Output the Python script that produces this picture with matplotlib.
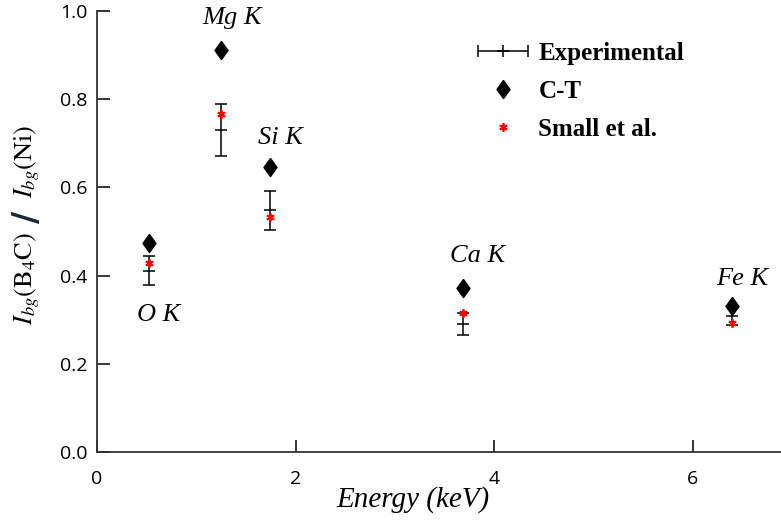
import numpy as np
import matplotlib
matplotlib.use('Agg')
import matplotlib.pyplot as plt
from matplotlib.legend_handler import HandlerErrorbar
from matplotlib.container import ErrorbarContainer

plt.rcParams['mathtext.fontset'] = 'stix'

# Data
lines_names = ['O K', 'Mg K', 'Si K', 'Ca K', 'Fe K']
energy = [0.525, 1.254, 1.740, 3.690, 6.400]
exp_val = [0.411, 0.730, 0.548, 0.291, 0.309]
exp_err = [0.033, 0.058, 0.044, 0.025, 0.020]
ct_val = [0.473, 0.911, 0.647, 0.371, 0.330]
small_val = [0.429, 0.766, 0.532, 0.316, 0.293]

# label positions (energy, ratio)
label_x = [0.62, 1.36, 1.85, 3.83, 6.50]
label_y = [0.31, 0.985, 0.712, 0.445, 0.393]

fig = plt.figure(figsize=(7.81, 5.20), dpi=100)
ax = fig.add_axes([0.1242, 0.1308, 0.8758, 0.8481])

diamond = [(0, 1), (0.72, 0), (0, -1), (-0.72, 0), (0, 1)]

ax.errorbar(energy, exp_val, yerr=exp_err, fmt='_', color='black', ecolor='black',
            elinewidth=1.1, capsize=4, capthick=1.1, markersize=8, mew=1.1, zorder=2)
ax.plot(energy, ct_val, linestyle='none', marker=diamond, markersize=13,
        color='black', zorder=3)
ax.plot(energy, small_val, linestyle='none', marker=(6, 2, 0), markersize=6,
        mew=1.3, color='red', zorder=4)

for name, lx, ly in zip(lines_names, label_x, label_y):
    ax.text(lx, ly, name, fontsize=19, family='Liberation Serif', style='italic',
            ha='center', va='center')

# legend proxies
proxy = ax.errorbar([np.nan], [np.nan], xerr=[0.1], fmt='+', color='black',
                    elinewidth=1.1, capsize=4, markersize=8, mew=1.1)
ct_proxy, = ax.plot([], [], linestyle='none', marker=diamond, markersize=13, color='black')
sm_proxy, = ax.plot([], [], linestyle='none', marker=(6, 2, 0), markersize=6,
                    mew=1.3, color='red')
ax.legend([proxy, ct_proxy, sm_proxy], ['Experimental', 'C-T', 'Small et al.'],
          handler_map={ErrorbarContainer: HandlerErrorbar(xerr_size=1.0)},
          loc='upper left', bbox_to_anchor=(0.587, 0.963), bbox_transform=fig.transFigure,
          frameon=False, prop={'family': 'Liberation Serif', 'weight': 'bold', 'size': 18},
          handlelength=1.8, labelspacing=0.6, handletextpad=0.5)

ax.set_xlim(0, 6.89)
ax.set_ylim(0, 1.0)
ax.set_xticks([0, 2, 4, 6])
ax.set_yticks([0.0, 0.2, 0.4, 0.6, 0.8, 1.0])
ax.set_yticklabels(['0.0', '0.2', '0.4', '0.6', '0.8', '1.0'])
ax.tick_params(direction='in', length=9, width=1.1, labelsize=14, colors='black')
ax.tick_params(axis='x', pad=13)
ax.tick_params(axis='y', pad=7)
for lab in ax.get_xticklabels() + ax.get_yticklabels():
    lab.set_family('Open Sans')
ax.spines['top'].set_visible(False)
ax.spines['right'].set_visible(False)
ax.spines['left'].set_color('#333333')
ax.spines['bottom'].set_color('#333333')
ax.spines['left'].set_linewidth(1.3)
ax.spines['bottom'].set_linewidth(1.3)

ax.set_xlabel('Energy (keV)', fontsize=21, family='Liberation Serif', style='italic')
ax.xaxis.set_label_coords(0.462, -0.077)
ax.set_ylabel(r'$I_{bg}(\mathrm{B_4C})\quad\;\;\; I_{bg}(\mathrm{Ni})$', fontsize=19)
ax.yaxis.set_label_coords(-0.081, 0.516)
# the big slash between the two halves of the y label
fig.text(28 / 781, 1 - 217 / 520, '/', fontsize=24, fontweight='bold', family='DejaVu Sans',
         rotation=90, ha='center', va='center', color='#1c2636')

fig.savefig('out.png', dpi=100)
